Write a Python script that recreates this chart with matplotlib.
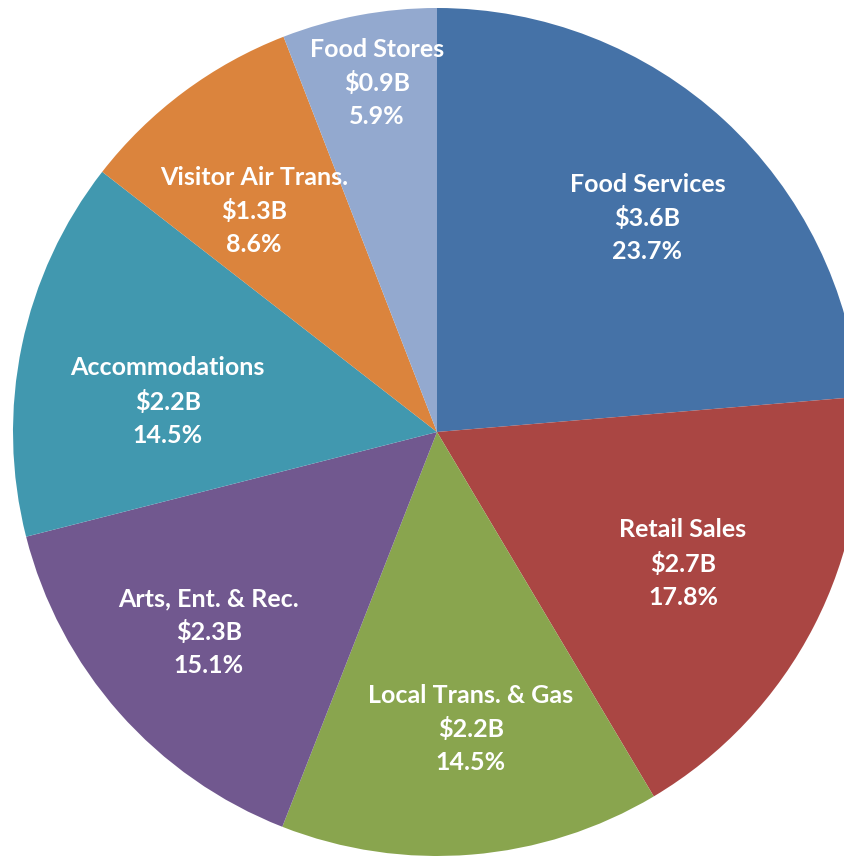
import numpy as np
import matplotlib
matplotlib.use("Agg")
import matplotlib.pyplot as plt

# data
categories = ["Food Services", "Retail Sales", "Local Trans. & Gas",
              "Arts, Ent. & Rec.", "Accommodations", "Visitor Air Trans.",
              "Food Stores"]
spending_b = [3.6, 2.7, 2.2, 2.3, 2.2, 1.3, 0.9]
share_pct = [23.7, 17.8, 14.5, 15.1, 14.5, 8.6, 5.9]

colors = ["#4572A7", "#AA4643", "#89A54E", "#71588F",
          "#4198AF", "#DB843D", "#93A9CF"]

# label placement (fraction of radius, angle shift in degrees)
label_r = [0.708, 0.658, 0.705, 0.716, 0.639, 0.677, 0.835]
label_shift = [-1.9, -0.9, 1.8, -0.2, 5.3, 2.9, -0.8]

W, H = 844, 856
cx, cy, R = 437, 432, 424

fig = plt.figure(figsize=(W / 100, H / 100), dpi=100)
ax = fig.add_axes([0, 0, 1, 1])

wedges, _ = ax.pie(share_pct, colors=colors, startangle=90,
                   counterclock=False, radius=1.0,
                   wedgeprops=dict(linewidth=0))

ax.set_xlim(-cx / R, (W - cx) / R)
ax.set_ylim(-(H - cy) / R, cy / R)
ax.set_aspect("auto")
ax.axis("off")

for w, name, val, pct, r, sh in zip(wedges, categories, spending_b,
                                     share_pct, label_r, label_shift):
    ang = np.deg2rad((w.theta1 + w.theta2) / 2 + sh)
    ax.text(r * np.cos(ang), r * np.sin(ang),
            f"{name}\n${val:.1f}B\n{pct:.1f}%",
            ha="center", va="center", color="white", fontsize=18,
            fontweight="bold", family=["Lato", "DejaVu Sans"],
            linespacing=1.52)

fig.savefig("out.png", dpi=100)
